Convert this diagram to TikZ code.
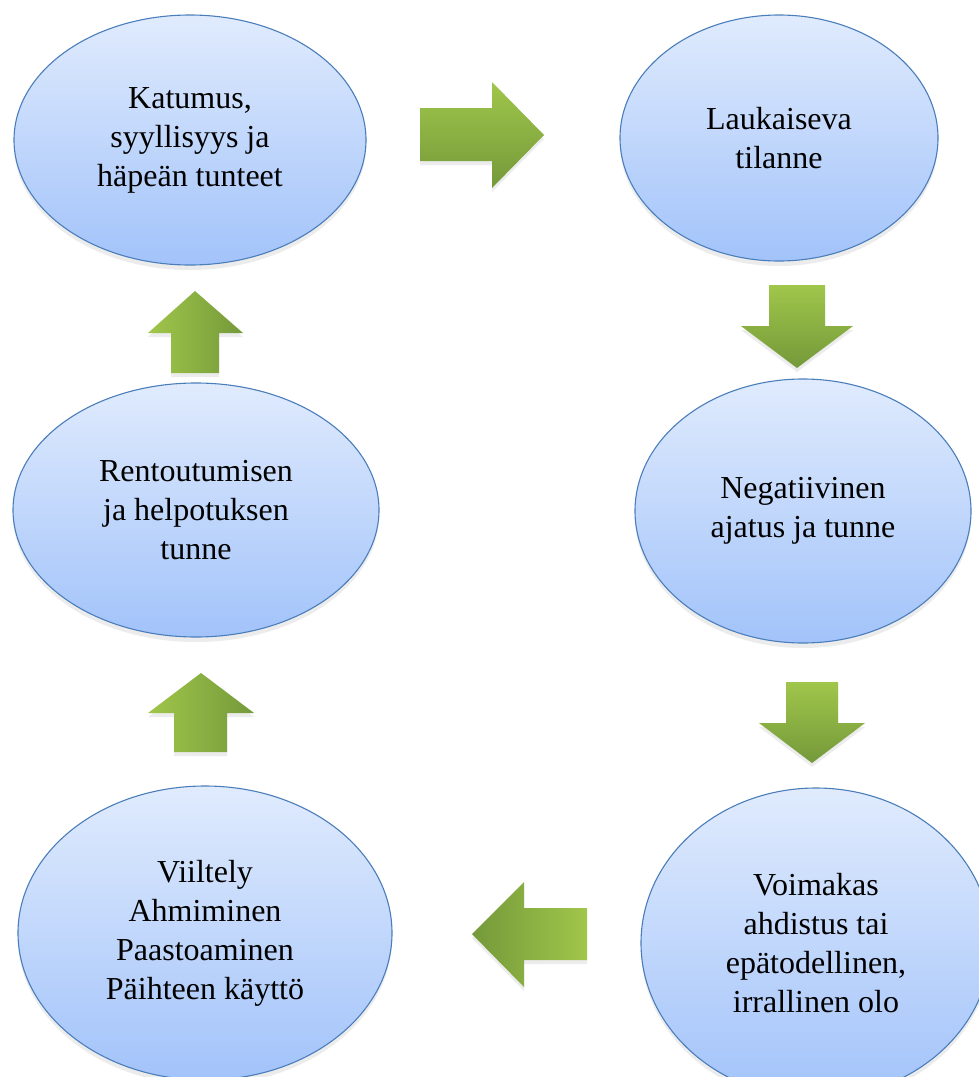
\documentclass[tikz,border=0pt]{standalone}
\usepackage{fontspec}
\setmainfont{Liberation Serif}
\usetikzlibrary{shapes.geometric,shadows}
\definecolor{ellTop}{HTML}{E0EBFD}
\definecolor{ellBot}{HTML}{A2C3FA}
\definecolor{ellLine}{HTML}{4A7EBB}
\definecolor{grLight}{HTML}{A0C64B}
\definecolor{grDark}{HTML}{74993A}
\begin{document}
\begin{tikzpicture}[x=1pt,y=-1pt,
  bubble/.style={ellipse, draw=ellLine, line width=1.1pt, top color=ellTop, bottom color=ellBot,
    inner sep=0pt, align=center, font=\fontsize{32}{39}\selectfont,
    drop shadow={opacity=0.15, shadow xshift=0pt, shadow yshift=-5pt}},
  arrowV/.style={top color=grLight, bottom color=grDark,
    drop shadow={opacity=0.15, shadow xshift=0pt, shadow yshift=-4pt}},
  arrowUp/.style={left color=grLight, right color=grDark,
    drop shadow={opacity=0.15, shadow xshift=0pt, shadow yshift=-4pt}},
  arrowLeft/.style={left color=grDark, right color=grLight,
    drop shadow={opacity=0.15, shadow xshift=0pt, shadow yshift=-4pt}}
]
\useasboundingbox[fill=white] (0,0) rectangle (979,1077);

% ellipses
\node[bubble, minimum width=352pt, minimum height=250pt] (e1) at (190,140) {Katumus,\\syyllisyys ja\\häpeän tunteet};
\node[bubble, minimum width=318pt, minimum height=246pt] (e2) at (779,138) {Laukaiseva\\tilanne};
\node[bubble, minimum width=336pt, minimum height=264pt] (e3) at (803,511) {Negatiivinen\\ajatus ja tunne};
\node[bubble, minimum width=350pt, minimum height=310pt] (e4) at (816,943) {Voimakas\\ahdistus tai\\epätodellinen,\\irrallinen olo};
\node[bubble, minimum width=374pt, minimum height=294pt] (e5) at (205,933) {Viiltely\\Ahmiminen\\Paastoaminen\\Päihteen käyttö};
\node[bubble, minimum width=366pt, minimum height=254pt] (e6) at (196,510) {Rentoutumisen\\ja helpotuksen\\tunne};

% block arrows
% right arrow (e1 -> e2)
\path[arrowV] (420,108) -- (492,108) -- (492,82) -- (544,135) -- (492,188) -- (492,161) -- (420,161) -- cycle;
% down arrow (e2 -> e3)
\path[arrowV] (769,285) -- (825,285) -- (825,326) -- (853,326) -- (797,368) -- (741,326) -- (769,326) -- cycle;
% down arrow (e3 -> e4)
\path[arrowV] (786,682) -- (838,682) -- (838,723) -- (865,723) -- (812,763) -- (759,723) -- (786,723) -- cycle;
% left arrow (e4 -> e5)
\path[arrowLeft] (587,908) -- (524,908) -- (524,882) -- (472,934) -- (524,987) -- (524,960) -- (587,960) -- cycle;
% up arrow (e5 -> e6)
\path[arrowUp] (174,752) -- (174,713) -- (148,713) -- (201,673) -- (254,713) -- (227,713) -- (227,752) -- cycle;
% up arrow (e6 -> e1)
\path[arrowUp] (171,373) -- (171,333) -- (148,333) -- (195,291) -- (243,333) -- (219,333) -- (219,373) -- cycle;
\end{tikzpicture}
\end{document}
